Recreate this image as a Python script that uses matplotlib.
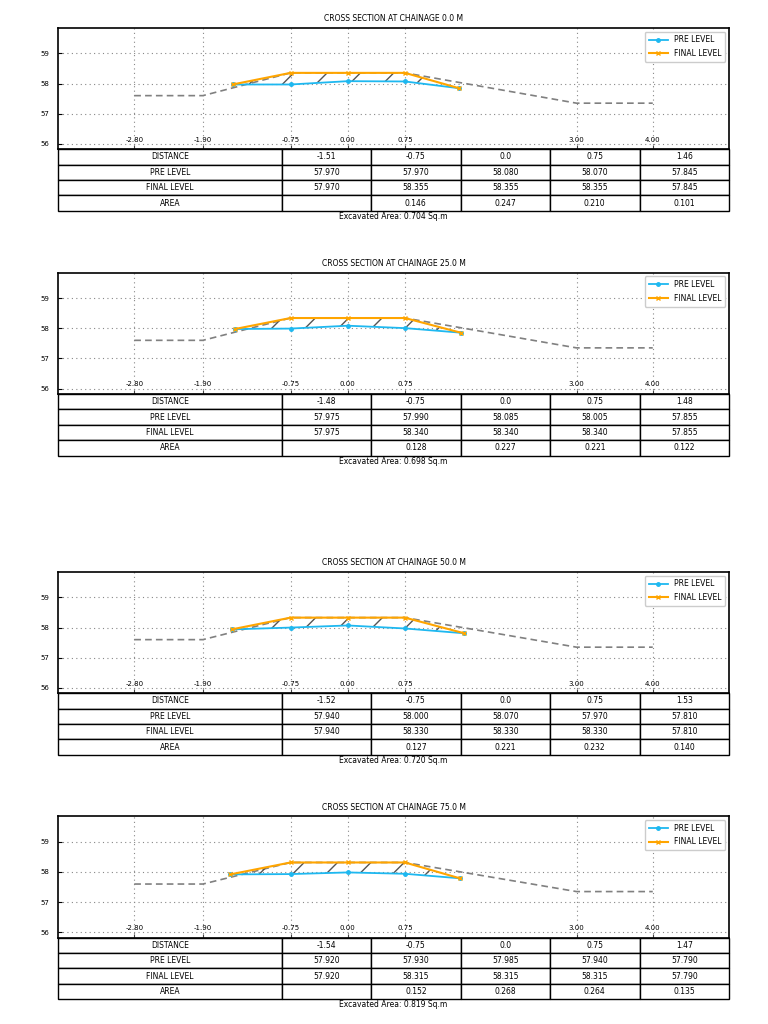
import matplotlib
matplotlib.use('agg')
import matplotlib.pyplot as plt

# chainages shown, one panel each
chainages = [0.0, 25.0, 50.0, 75.0]

# surveyed offsets per chainage
distances = [
    [-1.51, -0.75, 0.0, 0.75, 1.46],
    [-1.48, -0.75, 0.0, 0.75, 1.48],
    [-1.52, -0.75, 0.0, 0.75, 1.53],
    [-1.54, -0.75, 0.0, 0.75, 1.47],
]
pre_levels = [
    [57.970, 57.970, 58.080, 58.070, 57.845],
    [57.975, 57.990, 58.085, 58.005, 57.855],
    [57.940, 58.000, 58.070, 57.970, 57.810],
    [57.920, 57.930, 57.985, 57.940, 57.790],
]
final_levels = [
    [57.970, 58.355, 58.355, 58.355, 57.845],
    [57.975, 58.340, 58.340, 58.340, 57.855],
    [57.940, 58.330, 58.330, 58.330, 57.810],
    [57.920, 58.315, 58.315, 58.315, 57.790],
]
areas = [
    ['', '0.146', '0.247', '0.210', '0.101'],
    ['', '0.128', '0.227', '0.221', '0.122'],
    ['', '0.127', '0.221', '0.232', '0.140'],
    ['', '0.152', '0.268', '0.264', '0.135'],
]
excavated = [0.704, 0.698, 0.720, 0.819]

# design template (dashed)
design_x = [-2.80, -1.90, -0.75, 0.75, 3.00, 4.00]
design_toe_left = 57.6
design_toe_right = 57.35

xticks = [-2.80, -1.90, -0.75, 0.00, 0.75, 3.00, 4.00]
yticks = [56, 57, 58, 59]

# axes bottoms in pixels from the top of the page
axes_bottom_px = [149.3, 394.0, 693.3, 937.7]

W, H = 768, 1024
fig = plt.figure(figsize=(W / 100, H / 100), dpi=100)

ax_h = 121.5
tab_h = 61.5
fs = 5.5

for i, ch in enumerate(chainages):
    bottom = 1 - axes_bottom_px[i] / H
    ax = fig.add_axes([58 / W, bottom, 671 / W, ax_h / H])

    x = distances[i]
    pre = pre_levels[i]
    fin = final_levels[i]
    top = fin[2]
    design_y = [design_toe_left, design_toe_left, top, top,
                design_toe_right, design_toe_right]

    ax.plot(design_x, design_y, color='gray', linestyle=(0, (4, 2.5)), linewidth=1.2, zorder=2)
    ax.fill_between(x, pre, fin, facecolor='none', edgecolor='#555555',
                    hatch='/', linewidth=0, zorder=2)
    ax.plot(x, pre, color='#1EB8F0', marker='.', markersize=5, linewidth=1.3,
            label='PRE LEVEL', zorder=3)
    ax.plot(x, fin, color='#FFA500', marker='x', markersize=3, linewidth=1.5,
            label='FINAL LEVEL', zorder=4)

    ax.set_xlim(-3.8, 5.0)
    ax.set_ylim(55.82, 59.85)
    ax.set_xticks(xticks)
    ax.set_xticklabels(['%.2f' % v for v in xticks])
    ax.set_yticks(yticks)
    ax.grid(True, linestyle=(0, (1, 3)), color='#888888', linewidth=0.8)
    ax.tick_params(axis='x', direction='in', pad=-9, labelsize=5, length=3, color='#444444')
    ax.tick_params(axis='y', direction='in', labelsize=5, length=3, pad=6)
    for s in ax.spines.values():
        s.set_linewidth(1.2)

    ax.legend(loc='upper right', fontsize=5.5, handlelength=2.5, borderpad=0.5,
              labelspacing=0.6, framealpha=1)

    ax.text(0.5, 1 + 9 / ax_h, 'CROSS SECTION AT CHAINAGE %.1f M' % ch,
            transform=ax.transAxes, ha='center', va='center', fontsize=fs)

    dist_txt = ['%g' % d if d != 0 else '0.0' for d in x]
    cells = [
        ['DISTANCE'] + dist_txt,
        ['PRE LEVEL'] + ['%.3f' % v for v in pre],
        ['FINAL LEVEL'] + ['%.3f' % v for v in fin],
        ['AREA'] + areas[i],
    ]
    tab = ax.table(cellText=cells, cellLoc='center',
                   colWidths=[1 / 3] + [2 / 15] * 5,
                   bbox=[0, -tab_h / ax_h, 1, tab_h / ax_h])
    tab.auto_set_font_size(False)
    tab.set_fontsize(fs)
    for cell in tab.get_celld().values():
        cell.set_linewidth(1.0)

    ax.text(0.5, -(tab_h + 5.5) / ax_h, 'Excavated Area: %.3f Sq.m' % excavated[i],
            transform=ax.transAxes, ha='center', va='center', fontsize=fs)

fig.savefig('out.png', dpi=100)
plt.close(fig)
